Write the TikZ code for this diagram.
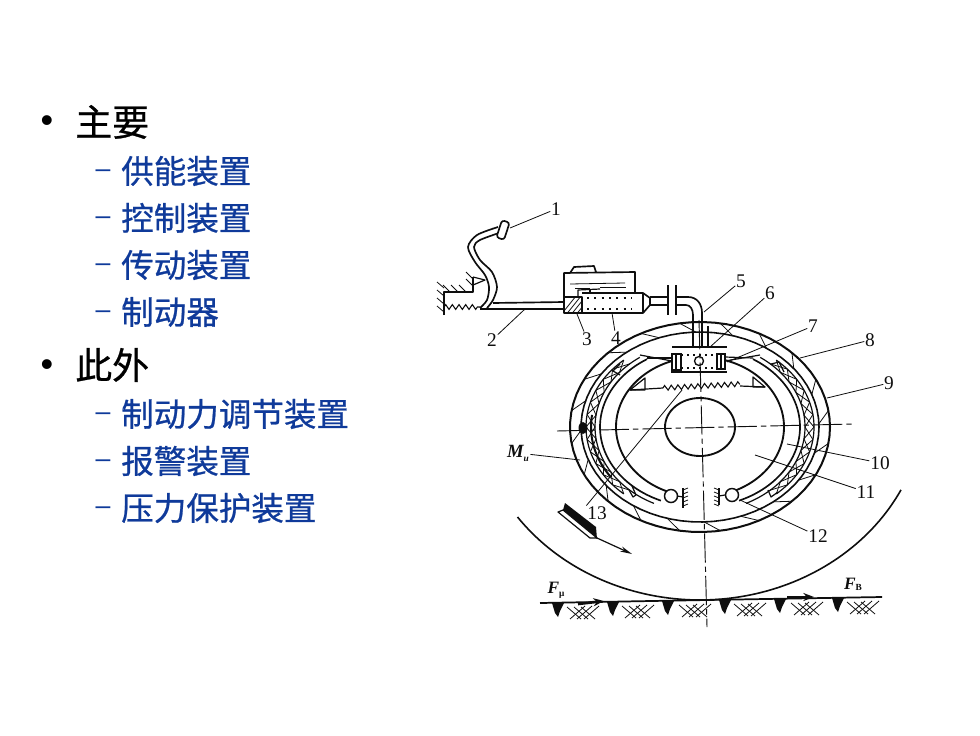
\documentclass[tikz,border=0pt]{standalone}
\usepackage{fontspec}
\setmainfont{Liberation Serif}
\newfontfamily\cjk[FakeBold=0.7]{Noto Sans CJK SC}
\newfontfamily\bul{Liberation Sans}
\usetikzlibrary{decorations.pathmorphing,arrows.meta}
\definecolor{itemblue}{HTML}{0F3A9A}
\definecolor{ink}{HTML}{0E0E0E}
\tikzset{
  x=0.75pt,y=-0.75pt,
  ln/.style={draw=ink,line width=0.9pt,line join=round},
  thin ln/.style={draw=ink,line width=0.6pt},
  thick ln/.style={draw=ink,line width=1.25pt,line join=round},
  axis/.style={draw=ink,line width=0.7pt,dash pattern=on 22pt off 3pt on 4pt off 3pt},
  leader/.style={draw=ink,line width=0.6pt},
  lab/.style={font=\fontsize{14.5}{15}\selectfont,text=ink,inner sep=0.5pt},
  forcelab/.style={font=\fontsize{13}{13}\bfseries\itshape\selectfont,text=ink,inner sep=1pt},
  head/.style={anchor=west,inner sep=0pt,font=\fontsize{27.7}{28}\cjk\selectfont,text=black},
  sub/.style={anchor=west,inner sep=0pt,font=\fontsize{24.4}{25}\cjk\selectfont,text=itemblue},
  bullet/.style={inner sep=0pt,font=\fontsize{27}{28}\bul\selectfont,text=black},
  dashmark/.style={inner sep=0pt,font=\fontsize{20}{20}\bul\selectfont,text=itemblue},
  spring/.style={draw=ink,line width=0.8pt,decorate,decoration={zigzag,segment length=5pt,amplitude=1.8pt}},
}
% elliptical arc about the drum centre: style, rx, ry, from, to
\newcommand{\earc}[5]{\draw[#1,domain=#4:#5,samples=70,variable=\t] plot ({700+#2*cos(\t)},{427-#3*sin(\t)});}
\newcommand{\lead}[4]{%
  \node[lab] (l#1) at (#2) {#3};
  \coordinate (p#1) at (#4);
  \draw[leader] (l#1) -- (p#1);}
\begin{document}
\begin{tikzpicture}
\fill[white] (0,0) rectangle (980,735);
\useasboundingbox (0,0) rectangle (980,735);

% ---- text
\node[bullet] (b1) at (47,124) {•};
\node[head] (h1) at (75,122) {主要};
\node[dashmark] (d1) at (103,174) {–};
\node[sub] (s1) at (121,171) {供能装置};
\node[dashmark] (d2) at (103,221) {–};
\node[sub] (s2) at (121,218) {控制装置};
\node[dashmark] (d3) at (103,268) {–};
\node[sub] (s3) at (121,265) {传动装置};
\node[dashmark] (d4) at (103,315) {–};
\node[sub] (s4) at (121,312) {制动器};
\node[bullet] (b2) at (47,368) {•};
\node[head] (h2) at (75,365) {此外};
\node[dashmark] (d5) at (103,417) {–};
\node[sub] (s5) at (121,414) {制动力调节装置};
\node[dashmark] (d6) at (103,464) {–};
\node[sub] (s6) at (121,461) {报警装置};
\node[dashmark] (d7) at (103,511) {–};
\node[sub] (s7) at (121,508) {压力保护装置};

% ---- pedal
\draw[thick ln] plot[smooth] coordinates {(498,227) (477,235) (468,247) (475,262) (485,275) (489,287) (487,300) (480,308)};
\draw[thick ln] plot[smooth] coordinates {(502,232) (480,240) (474,247) (480,260) (492,272) (497,287) (493,300) (487,308)};
\draw[thick ln,fill=white,rounded corners=2pt,rotate around={-18:(503,230)}] (499,221) rectangle (507,239);
% bracket with hatching
\draw[thick ln] (444,315) -- (444,292) -- (473,292) -- (473,277);
\draw[ln] (473,277) -- (485,280) -- (473,285);
\draw[spring] (444,307) -- (480,307);
\foreach \yy in {288,296,304,312} \draw[thin ln] (444,\yy) -- (437,\yy-6);
\foreach \xx in {450,458,466} \draw[thin ln] (\xx,292) -- (\xx-7,285);
\foreach \yy in {279,286} \draw[thin ln] (473,\yy) -- (466,\yy-7);
% push rod
\draw[thick ln] (493,303) -- (564,302);
\draw[thick ln] (480,309) -- (564,309);

% ---- master cylinder
\draw[thick ln] (564,313) rectangle (582,297);
\begin{scope}
\clip (564,297) rectangle (582,313);
\foreach \k in {0,5,...,40} \draw[thin ln] (560+\k,316) -- (576+\k,296);
\end{scope}
\draw[thick ln] (582,293) -- (643,293) -- (650,298) -- (650,305) -- (643,313) -- (582,313);
\draw[thick ln] (643,293) -- (643,313);
\draw[thick ln] (564,297) -- (564,273) -- (635,272) -- (635,293);
\draw[thick ln] (570,273) -- (574,267) -- (594,266) -- (596,272);
\draw[thin ln] (570,284) -- (625,283);
\draw[thin ln] (575,288) -- (590,288);
\draw[thin ln] (600,287) -- (626,287);
\draw[ln] (578,297) -- (578,290) -- (600,289);
\draw[ln] (590,290) -- (590,294);
\draw[draw=ink,line width=1.1pt,dash pattern=on 1.5pt off 4pt] (587,298) -- (632,298);
\draw[draw=ink,line width=1.1pt,dash pattern=on 1.5pt off 4pt] (587,309) -- (632,309);
% pipe and flange
\draw[thick ln] (650,297) -- (668,297);
\draw[thick ln] (650,305) -- (668,305);
\draw[draw=ink,line width=1.7pt] (668,285) -- (668,315);
\draw[draw=ink,line width=1.7pt] (676,285) -- (676,315);
\draw[thick ln] (676,297) -- (688,297) .. controls (697,297) and (702,304) .. (702,313) -- (702,323);
\draw[thick ln] (676,305) -- (686,305) .. controls (690,305) and (693,309) .. (693,315) -- (693,323);

% ---- drum
\earc{draw=ink,line width=1.5pt}{130}{105}{0}{360}
\earc{draw=ink,line width=1.2pt}{119}{95}{0}{360}
\foreach \a in {2,20,...,358} {
  \draw[thin ln] ({700+119*cos(\a)},{427-95*sin(\a)}) -- ({700+130*cos(\a+7)},{427-105*sin(\a+7)});
}
% hub
\draw[draw=ink,line width=1.4pt] (700,427) ellipse [x radius=35,y radius=29];

% ---- right shoe
\earc{draw=ink,line width=1.4pt}{84}{70}{-71}{74}
\earc{thick ln}{100}{80}{-67}{58}
\earc{ln}{105}{85}{-64}{55}
\earc{ln}{114}{90}{-48}{48}
\draw[ln] (725,357) -- (753,358);
\draw[ln] (725,361) -- (760,355);
% right lining hatching
\foreach \a in {-48,-40,...,40} {
  \draw[thin ln] ({700+105*cos(\a)},{427-85*sin(\a)}) -- ({700+114*cos(\a+8)},{427-90*sin(\a+8)});
  \draw[thin ln] ({700+114*cos(\a)},{427-90*sin(\a)}) -- ({700+105*cos(\a+8)},{427-85*sin(\a+8)});
}
% ---- left shoe
\earc{draw=ink,line width=1.4pt}{84}{70}{106}{251}
\earc{thick ln}{100}{80}{122}{247}
\earc{ln}{105}{85}{125}{244}
\earc{ln}{114}{90}{132}{228}
\draw[ln] (672,358) -- (647,358);
\draw[ln] (672,361) -- (640,355);
\foreach \a in {132,140,...,220} {
  \draw[thin ln] ({700+105*cos(\a)},{427-85*sin(\a)}) -- ({700+114*cos(\a+8)},{427-90*sin(\a+8)});
  \draw[thin ln] ({700+114*cos(\a)},{427-90*sin(\a)}) -- ({700+105*cos(\a+8)},{427-85*sin(\a+8)});
}
\earc{draw=ink,line width=1.5pt}{109}{87}{172}{215}
\fill[ink] (583,428) ellipse [x radius=4.5,y radius=6];
% lining end blocks
\draw[ln] (620,364) -- (613,371) -- (620,375);
\draw[ln] (771,364) -- (779,362) -- (784,372);
\draw[ln] (629,490) -- (633,497) -- (636,495) -- (632,486);
\draw[ln] (768,490) -- (771,497) -- (778,492);

% ---- wheel cylinder
\draw[draw=ink,line width=1.1pt] (693,323) -- (693,347);
\draw[draw=ink,line width=1.1pt] (702,323) -- (702,347);
\draw[draw=ink,line width=1.1pt] (708,326) -- (708,347);
\draw[draw=ink,line width=1.3pt] (672,347) -- (727,347);
\draw[draw=ink,line width=1.1pt] (671,372) -- (727,372);
\draw[draw=ink,line width=1.2pt,fill=white] (672,354) rectangle (681,370);
\draw[draw=ink,line width=0.8pt] (676,354) -- (676,370);
\draw[draw=ink,line width=1.2pt,fill=white] (717,354) rectangle (725,369);
\draw[draw=ink,line width=0.8pt] (721,354) -- (721,369);
\draw[draw=ink,line width=0.9pt,dash pattern=on 1.5pt off 3pt] (681,355) -- (717,355);
\draw[draw=ink,line width=0.9pt,dash pattern=on 1.5pt off 3pt] (681,368) -- (717,368);
\draw[draw=ink,line width=1pt] (699,361) circle [radius=4.5];

% ---- return spring
\draw[ln] (630,390) -- (645,378) -- (645,390) -- cycle;
\draw[ln] (630,390) -- (663,388);
\draw[spring] (663,388) -- (740,384);
\draw[ln] (753,377) -- (765,387) -- (753,387) -- cycle;
\draw[ln] (740,386) -- (765,387);

% ---- anchor pins
\draw[draw=ink,line width=1.1pt,fill=white] (671,496) circle [radius=6.5];
\draw[draw=ink,line width=1.1pt,fill=white] (732,495) circle [radius=6.5];
\draw[thick ln] (683,488) -- (683,508);
\draw[thick ln] (719,488) -- (719,505);
\draw[ln] (677,496) -- (683,497);
\draw[ln] (725,495) -- (719,496);
\foreach \yy in {490,494,...,506} {
  \draw[thin ln] (683,\yy) -- (688,\yy-2);
  \draw[thin ln] (719,\yy) -- (714,\yy-2);
}

% ---- axes
\draw[axis] (557,431) -- (853,424);
\draw[axis] (699,320) -- (707,627);

% ---- shoe motion mark
\fill[ink] (565,503) -- (596,527) -- (597,539) -- (563,510) -- cycle;
\draw[ln,fill=white] (558,512) -- (563,510) -- (597,538) -- (590,538) -- cycle;
\draw[ln,-{Stealth[length=9pt,width=4pt]}] (597,538) -- (632,554);

% ---- wheel
\draw[draw=ink,line width=1.2pt,domain=-144.2:-26.7,samples=80,variable=\t]
  plot ({700+225*cos(\t)},{400-200*sin(\t)});

% ---- ground
\draw[draw=ink,line width=1.3pt] (540,603) -- (707,600) -- (882,597);
\foreach \xx/\yy in {558/603,613/602,668/601,725/600,780/599,838/598} {
  \fill[ink] (\xx-6,\yy) -- (\xx+6,\yy) -- (\xx+2,\yy+8) -- (\xx,\yy+14) -- (\xx-3,\yy+10) -- cycle;
}
\foreach \xx/\yy in {570/606,625/605,682/604,737/603,794/602,850/601} {
  \foreach \k in {0,7,14} {
    \draw[thin ln] (\xx+\k,\yy+13) -- (\xx+\k+15,\yy);
    \draw[thin ln] (\xx+\k-3,\yy+1) -- (\xx+\k+11,\yy+13);
  }
}
\draw[draw=ink,line width=2pt,-{Stealth[length=8pt,width=6pt]}] (578,604) -- (604,601);
\draw[draw=ink,line width=2pt,-{Stealth[length=8pt,width=6pt]}] (787,597) -- (814,597);

% ---- labels and leaders
\lead{1}{556,209}{1}{510,228}
\lead{2}{492,340}{2}{525,309}
\lead{3}{587,339}{3}{577,314}
\lead{4}{616,338}{4}{612,313}
\lead{5}{741,281}{5}{704,312}
\lead{6}{770,293}{6}{710,347}
\lead{7}{813,326}{7}{727,362}
\lead{8}{870,340}{8}{800,358}
\lead{9}{889,383}{9}{827,398}
\lead{10}{880,463}{10}{787,444}
\lead{11}{866,492}{11}{755,455}
\lead{12}{818,536}{12}{740,500}
\node[lab] (l13) at (597,513) {13};
\coordinate (p13) at (682,390);
\draw[leader] (l13.north west) -- (p13);
\node[forcelab,font=\fontsize{14}{14}\bfseries\itshape\selectfont] (mu) at (518,453) {M\raisebox{-3pt}{\fontsize{7}{7}\selectfont u}};
\coordinate (mp) at (580,460);
\draw[leader] (mu) -- (mp);
\node[forcelab] (fmu) at (556,590) {F\raisebox{-2pt}{\fontsize{7}{7}\selectfont\upshape μ}};
\node[forcelab] (fb) at (853,584) {F\raisebox{-1pt}{\fontsize{7}{7}\selectfont\upshape B}};
\end{tikzpicture}
\end{document}
